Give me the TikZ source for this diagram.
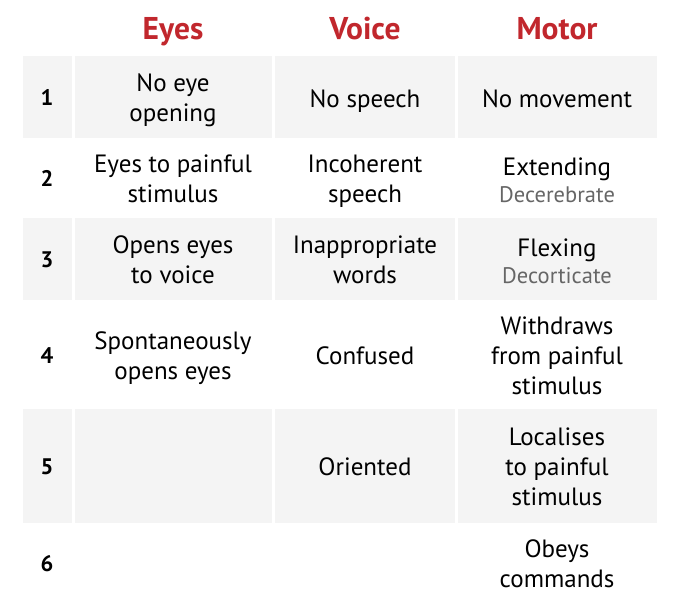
\documentclass[tikz,border=0pt]{standalone}
\usepackage{fontspec}
\setmainfont{PT Sans}
\usepackage{xcolor}
\definecolor{gcsred}{HTML}{C1272D}
\definecolor{rowgray}{HTML}{F4F4F4}
\definecolor{subgray}{HTML}{666666}

\begin{document}
\begin{tikzpicture}[x=1pt,y=-1pt,
    head/.style={anchor=base, text=gcsred, font=\fontsize{31.5}{34}\selectfont\bfseries},
    num/.style={anchor=base, font=\fontsize{22.5}{26}\selectfont\bfseries},
    entry/.style={align=center, inner sep=0pt, text depth=6pt, font=\fontsize{25}{30}\selectfont},
    line/.style={anchor=base, inner sep=0pt, font=\fontsize{25}{30}\selectfont},
    sub/.style={anchor=base, inner sep=0pt, text=subgray, font=\fontsize{22.5}{28}\selectfont}]
        \useasboundingbox (0,0) rectangle (680,605);

        % shaded rows 1, 3, 5
        \foreach \t/\b in {56/138, 218/300, 409/523}
          \foreach \l/\r in {23/72, 75/272, 275/455, 458/657}
            \fill[rowgray] (\l,\t) rectangle (\r,\b);

        \node[head] (hEyes) at (173,39) {Eyes};
        \node[head] (hVoice) at (365,39) {Voice};
        \node[head] (hMotor) at (557,39) {Motor};

        \foreach \i/\y in {1/105, 2/186, 3/267, 4/363, 5/474, 6/571}
          \node[num] (n\i) at (47,\y) {\i};

        \node[entry] (eyes1) at (173,101) {No eye\\opening};
        \node[entry] (eyes2) at (173,182) {Eyes to painful\\stimulus};
        \node[entry] (eyes3) at (173,263) {Opens eyes\\to voice};
        \node[entry] (eyes4) at (173,359) {Spontaneously\\opens eyes};

        \node[line] (voice1) at (365,107) {No speech};
        \node[entry] (voice2) at (365,182) {Incoherent\\speech};
        \node[entry] (voice3) at (365,263) {Inappropriate\\words};
        \node[line] (voice4) at (365,364) {Confused};
        \node[line] (voice5) at (365,475) {Oriented};

        \node[line] (motor1) at (557,107) {No movement};
        \node[line] (motor2) at (557,175) {Extending};
        \node[sub] (motor2s) at (557,202) {Decerebrate};
        \node[line] (motor3) at (557,256) {Flexing};
        \node[sub] (motor3s) at (557,283) {Decorticate};
        \node[entry] (motor4) at (557,359) {Withdraws\\from painful\\stimulus};
        \node[entry] (motor5) at (557,470) {Localises\\to painful\\stimulus};
        \node[entry] (motor6) at (557,567) {Obeys\\commands};
      \end{tikzpicture}
\end{document}
